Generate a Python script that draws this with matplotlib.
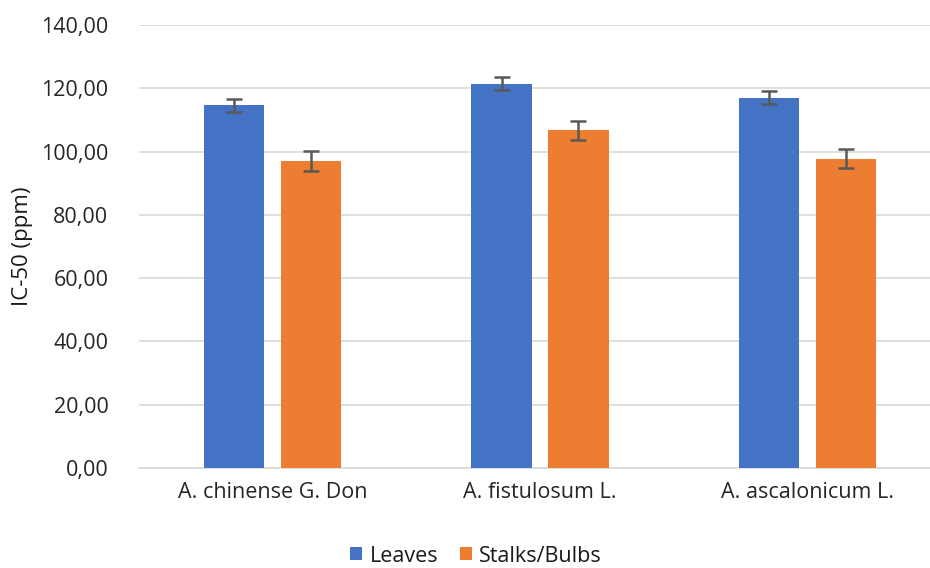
import matplotlib
matplotlib.use("Agg")
import matplotlib.pyplot as plt
import numpy as np

categories = ["A. chinense G. Don", "A. fistulosum L.", "A. ascalonicum L."]
leaves = [114.6, 121.5, 117.0]
leaves_err = [2.0, 2.1, 2.1]
stalks = [97.0, 106.7, 97.8]
stalks_err = [3.2, 3.1, 3.1]
yticks = [0, 20, 40, 60, 80, 100, 120, 140]

plt.rcParams['font.family'] = ['Open Sans', 'DejaVu Sans']

fig = plt.figure(figsize=(9.3, 5.68), dpi=100)
ax = fig.add_axes([139/930, 1 - 468/568, (941-139)/930, (468-25)/568])

x = np.arange(len(categories))
w = 0.225
off = 0.144
ekw = dict(ecolor='#595959', elinewidth=1.8, capsize=6, capthick=1.8)
ax.bar(x - off, leaves, w, yerr=leaves_err, color='#4472C4', label='Leaves', error_kw=ekw, zorder=3)
ax.bar(x + off, stalks, w, yerr=stalks_err, color='#ED7D31', label='Stalks/Bulbs', error_kw=ekw, zorder=3)

ax.set_xlim(-0.5, len(categories) - 0.5)
ax.set_ylim(0, 140)
ax.set_yticks(yticks)
ax.set_yticklabels([f"{v:.2f}".replace('.', ',') for v in yticks])
ax.set_xticks(x)
ax.set_xticklabels(categories)
ax.yaxis.grid(True, color='#D9D9D9', linewidth=1.2, zorder=0)
ax.set_axisbelow(True)
for s in ['top', 'right', 'left']:
    ax.spines[s].set_visible(False)
ax.spines['bottom'].set_color('#D9D9D9')
ax.spines['bottom'].set_linewidth(1.2)
ax.tick_params(axis='both', length=0, labelsize=15.5, colors='#262626', pad=10)
ax.tick_params(axis='y', pad=22)
ax.set_ylabel("IC-50 (ppm)", fontsize=16, color='#1a1a1a', labelpad=6)

leg = fig.legend(loc='center', bbox_to_anchor=(476/930, 1 - 556/568), ncol=2, frameon=False,
                 fontsize=15.5, handlelength=0.55, handleheight=0.55, columnspacing=1.0, handletextpad=0.35)
for t in leg.get_texts():
    t.set_color('#1a1a1a')

fig.savefig("out.png", dpi=100)
